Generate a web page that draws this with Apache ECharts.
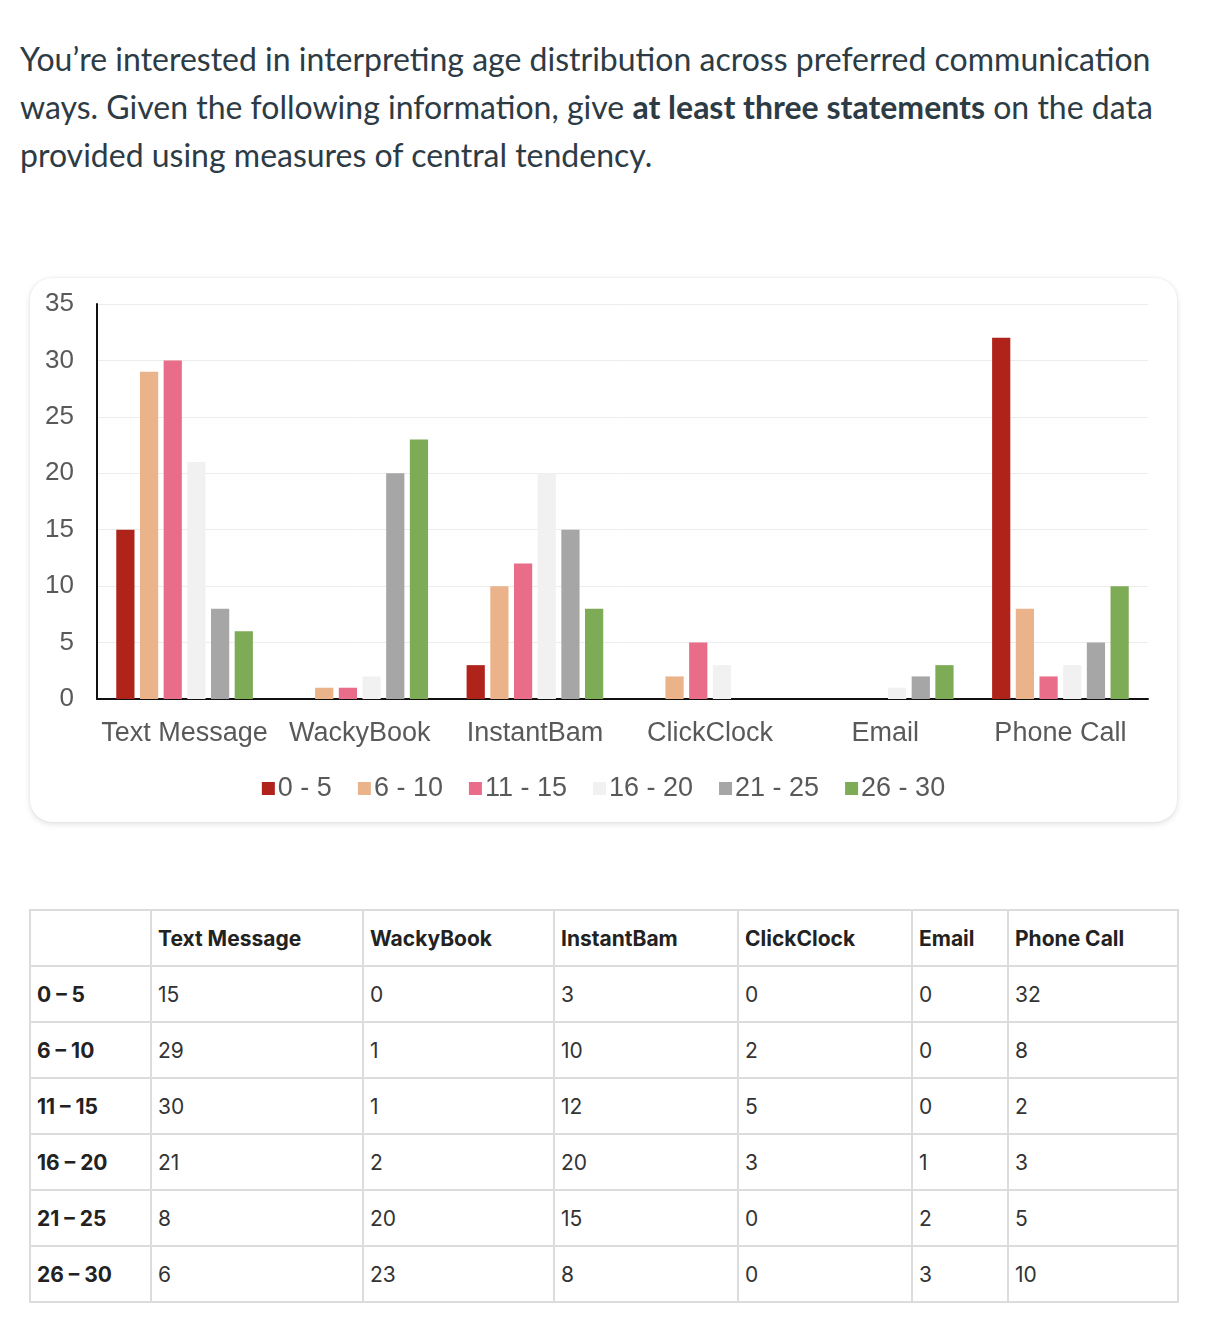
<!DOCTYPE html>
<html>
<head>
<meta charset="utf-8">
<script src="https://cdn.jsdelivr.net/npm/echarts@6/dist/echarts.min.js"></script>
<style>
  html, body { margin: 0; padding: 0; background: #fff; }
  body { width: 1212px; height: 1324px; position: relative; overflow: hidden; }
  #intro {
    position: absolute; left: 20px; top: 35px; width: 1165px; margin: 0;
    font-family: Lato, "Open Sans", sans-serif; font-size: 32px; line-height: 48px; color: #2d3b45;
  }
  #intro b { font-weight: 700; }
  #card {
    position: absolute; left: 30px; top: 278px; width: 1147px; height: 544px;
    border-radius: 22px; background: #fff;
    box-shadow: 0 2px 6px rgba(0,0,0,0.12), 0 0 2px rgba(0,0,0,0.08);
  }
  #chart { width: 1147px; height: 544px; }
  table {
    position: absolute; left: 29px; top: 909px; border-collapse: collapse;
    font-family: Inter, "Open Sans", sans-serif; font-size: 21px; color: #333;
  }
  td, th { border: 2px solid #dcdcdc; height: 54px; padding: 0 0 0 6px; text-align: left; vertical-align: middle; }
  th { font-weight: 700; color: #222; }
  td.rh { font-weight: 700; color: #222; }
</style>
</head>
<body>
<p id="intro">You’re interested in interpreting age distribution across preferred communication ways. Given the following information, give <b>at least three statements</b> on the data provided using measures of central tendency.</p>
<div id="card"><div id="chart"></div></div>
<table id="tbl"></table>
<script>
const categories = ["Text Message", "WackyBook", "InstantBam", "ClickClock", "Email", "Phone Call"];
const ageGroups = ["0 - 5", "6 - 10", "11 - 15", "16 - 20", "21 - 25", "26 - 30"];
const tableAgeLabels = ["0 – 5", "6 – 10", "11 – 15", "16 – 20", "21 – 25", "26 – 30"];
const age0to5 = [15, 0, 3, 0, 0, 32];
const age6to10 = [29, 1, 10, 2, 0, 8];
const age11to15 = [30, 1, 12, 5, 0, 2];
const age16to20 = [21, 2, 20, 3, 1, 3];
const age21to25 = [8, 20, 15, 0, 2, 5];
const age26to30 = [6, 23, 8, 0, 3, 10];
const yTicks = [0, 5, 10, 15, 20, 25, 30, 35];

const seriesValues = [age0to5, age6to10, age11to15, age16to20, age21to25, age26to30];
const colors = ["#b0231b", "#ebb38a", "#e96d88", "#f1f1f1", "#a6a6a6", "#7eab55"];

// Table
const tbl = document.getElementById('tbl');
const colWidths = [121, 212, 191, 184, 174, 96, 170];
let html = '<colgroup>' + colWidths.map(w => `<col style="width:${w}px">`).join('') + '</colgroup>';
html += '<tr><th></th>' + categories.map(c => `<th>${c}</th>`).join('') + '</tr>';
tableAgeLabels.forEach((a, i) => {
  html += `<tr><td class="rh">${a}</td>` + seriesValues[i].map(v => `<td>${v}</td>`).join('') + '</tr>';
});
tbl.innerHTML = html;

// Chart
const chart = echarts.init(document.getElementById('chart'), null, { renderer: 'canvas' });
const labelFont = 'Liberation Sans, Arial, sans-serif';
chart.setOption({
  animation: false,
  color: colors,
  grid: { left: 67, right: 29, top: 26, bottom: 123, containLabel: false },
  legend: {
    top: 492, left: 'center',
    itemWidth: 13, itemHeight: 13, itemGap: 26,
    icon: 'rect',
    textStyle: { fontFamily: labelFont, fontSize: 27, color: '#595959', padding: [0, 0, 0, -2] },
    data: ageGroups
  },
  xAxis: {
    type: 'category', data: categories,
    axisLine: { lineStyle: { color: '#111', width: 2 } },
    axisTick: { show: false },
    axisLabel: { fontFamily: labelFont, fontSize: 27, color: '#595959', margin: 21, interval: 0 }
  },
  yAxis: {
    type: 'value', min: 0, max: 35, interval: 5,
    axisLine: { show: true, lineStyle: { color: '#111', width: 2 } },
    axisTick: { show: false },
    axisLabel: { fontFamily: labelFont, fontSize: 26, color: '#595959', margin: 23,
      formatter: v => yTicks.includes(v) ? String(v) : '' },
    splitLine: { lineStyle: { color: '#ececec', width: 1 } }
  },
  series: ageGroups.map((g, i) => ({
    name: g, type: 'bar', data: seriesValues[i],
    barCategoryGap: '22%', barGap: '30%',
    itemStyle: { color: colors[i] }
  }))
});
</script>
</body>
</html>
